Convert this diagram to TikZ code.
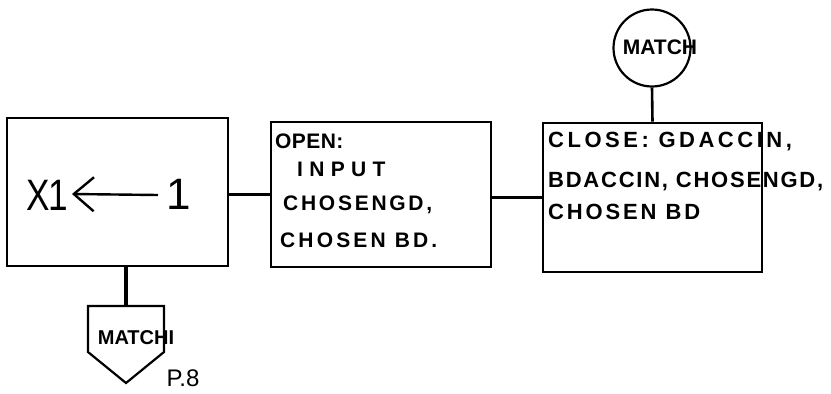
\documentclass[tikz,border=0pt]{standalone}
\usepackage{fontspec}
\usetikzlibrary{arrows.meta}
\setmainfont{Liberation Sans}
\newcommand{\hw}[2]{\fontsize{#1}{#1}\selectfont\addfontfeature{LetterSpace=#2}}
\begin{document}
\begin{tikzpicture}[x=1pt,y=-1pt,
  box/.style={draw, line width=2.6pt, minimum width=#1, inner sep=0pt},
  lbl/.style={anchor=west, inner sep=0pt},
  link/.style={line width=2.6pt}]
\useasboundingbox (0,0) rectangle (831,394);
% boxes
\node[box=221pt, minimum height=148pt] (lbox) at (117.5,192) {};
\node[box=220pt, minimum height=145pt] (mbox) at (381,194.5) {};
\node[box=219pt, minimum height=149pt] (rbox) at (652.5,197.5) {};
% left box text
\node[lbl, font=\hw{44}{-4}, xscale=0.8] (xone) at (26,195) {X1};
\node[lbl, font=\hw{44}{0}] (one) at (166,194) {1};
\draw[line width=2.4pt, {Straight Barb[length=20pt,width=34pt,line width=2.4pt]}-]
  ([xshift=4pt,yshift=1pt]xone.east) -- ([xshift=-8pt,yshift=-1pt]one.west);
% middle box text
\node[lbl, font=\bfseries\hw{21}{2}] (m1) at (275,141) {OPEN:};
\node[lbl, font=\bfseries\hw{21}{30}] (m2) at (297,169) {INPUT};
\node[lbl, font=\bfseries\hw{21}{13}] (m3) at (283,205) {CHOSENGD,};
\node[lbl, font=\bfseries\hw{21}{15}] (m4) at (280,240) {CHOSEN BD.};
% right box text
\node[lbl, font=\bfseries\hw{22}{16}] (r1) at (548,142) {CLOSE: GDACCIN,};
\node[lbl, font=\bfseries\hw{22}{8}] (r2) at (548,182) {BDACCIN, CHOSENGD,};
\node[lbl, font=\bfseries\hw{22}{13}] (r3) at (548,212) {CHOSEN BD};
% connectors between boxes
\draw[link] (lbox.east |- mbox.west) -- (mbox.west);
\draw[link] (mbox.east |- rbox.west) -- (rbox.west);
% on-page connector
\node[draw, circle, line width=2.2pt, minimum size=77pt, inner sep=0pt] (match) at (652,48) {};
\node[inner sep=0pt, font=\bfseries\hw{21}{0}] (matchtxt) at (660,47) {MATCH};
\draw[link] (match.south) -- (rbox.north);
% off-page connector
\coordinate (ptop) at (126,306);
\draw[line width=2.2pt, line join=miter] (88,306) -- (164,306) -- (164,352) -- (126,383) -- (88,352) -- cycle;
\node[inner sep=0pt, font=\bfseries\hw{20}{0}] (matchi) at (136,338) {MATCHI};
\node[inner sep=0pt, font=\hw{24}{0}] (page) at (183,378) {P.8};
\draw[line width=4.5pt] (ptop |- lbox.south) -- (ptop);
\end{tikzpicture}
\end{document}
